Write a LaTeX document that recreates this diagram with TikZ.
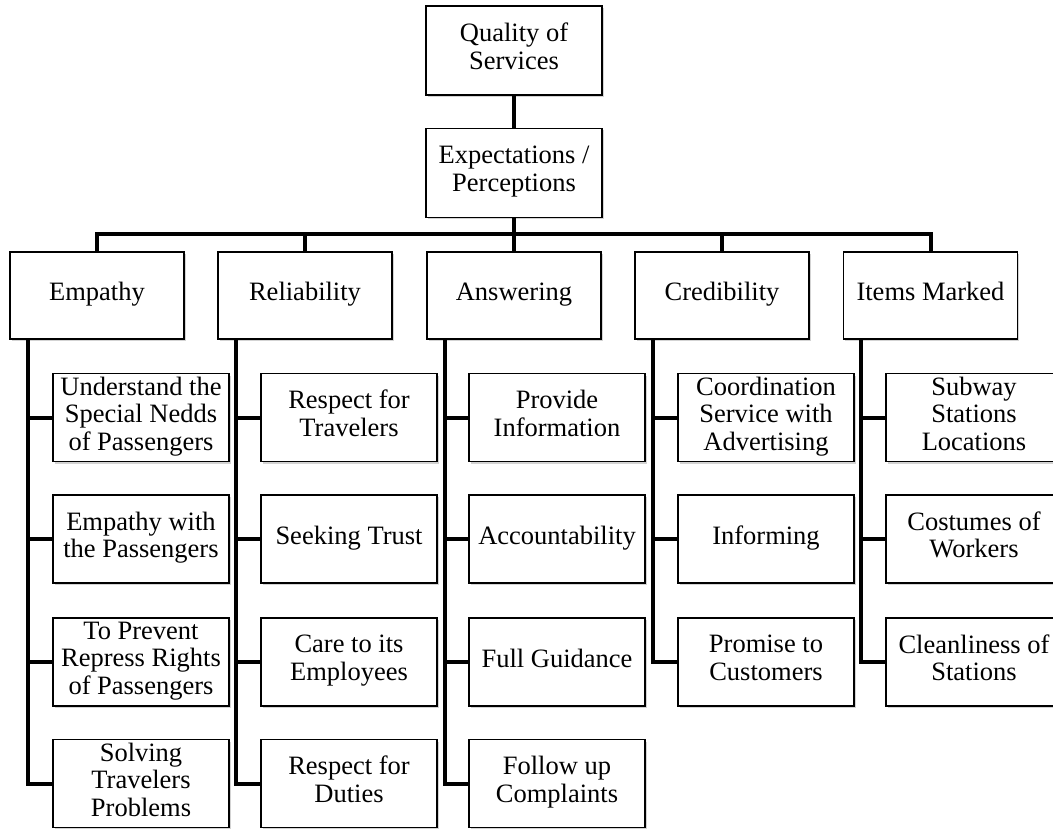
\documentclass[tikz,border=0pt]{standalone}
\usepackage{fontspec}
\setmainfont{Liberation Serif}
\usetikzlibrary{shadows}
\begin{document}
\begin{tikzpicture}[x=1pt,y=-1pt,
  box/.style={draw=black, line width=1.3pt, fill=white, inner sep=0pt,
    align=center, font=\fontsize{26.5}{27.5}\selectfont,
    execute at begin node=\strut, execute at end node=\strut,
    drop shadow={shadow xshift=1.5pt, shadow yshift=-2pt, opacity=0.35, fill=gray}},
  topbox/.style={box, minimum width=176pt, minimum height=89pt},
  catbox/.style={box, minimum width=174pt, minimum height=87pt},
  leaf/.style={box, minimum width=176pt, minimum height=88pt},
  conn/.style={line width=4pt, line join=miter}]
\useasboundingbox (0,0) rectangle (1053,829);
% top
\node[topbox] (qos) at (514,50.5) {Quality of\\Services};
\node[topbox] (exp) at (514,173) {Expectations /\\Perceptions};
% categories
\node[catbox] (emp) at (97,295.5) {Empathy};
\node[catbox] (rel) at (305,295.5) {Reliability};
\node[catbox] (ans) at (514,295.5) {Answering};
\node[catbox] (cre) at (722,295.5) {Credibility};
\node[catbox] (itm) at (930.5,295.5) {Items Marked};
% leaves
\node[leaf] (e1) at (141,417.5) {Understand the\\Special Nedds\\of Passengers};
\node[leaf] (e2) at (141,539) {Empathy with\\the Passengers};
\node[leaf] (e3) at (141,662) {To Prevent\\Repress Rights\\of Passengers};
\node[leaf] (e4) at (141,783.5) {Solving\\Travelers\\Problems};
\node[leaf] (r1) at (349,417.5) {Respect for\\Travelers};
\node[leaf] (r2) at (349,539) {Seeking Trust};
\node[leaf] (r3) at (349,662) {Care to its\\Employees};
\node[leaf] (r4) at (349,783.5) {Respect for\\Duties};
\node[leaf] (a1) at (557,417.5) {Provide\\Information};
\node[leaf] (a2) at (557,539) {Accountability};
\node[leaf] (a3) at (557,662) {Full Guidance};
\node[leaf] (a4) at (557,783.5) {Follow up\\Complaints};
\node[leaf] (c1) at (766,417.5) {Coordination\\Service with\\Advertising};
\node[leaf] (c2) at (766,539) {Informing};
\node[leaf] (c3) at (766,662) {Promise to\\Customers};
\node[leaf] (i1) at (974,417.5) {Subway\\Stations\\Locations};
\node[leaf] (i2) at (974,539) {Costumes of\\Workers};
\node[leaf] (i3) at (974,662) {Cleanliness of\\Stations};
% connectors
\draw[conn] (qos) -- (exp);
\coordinate (bus) at ([yshift=17.5pt]emp.north);
\draw[conn] (emp.north) -- (bus) -| (itm.north);
\foreach \n in {rel,ans,cre} \draw[conn] (\n.north) -- (\n.north |- bus);
\draw[conn] (exp.south) -- (exp.south |- bus);
\foreach \c/\last/\others in {emp/e4/{e1,e2,e3}, rel/r4/{r1,r2,r3}, ans/a4/{a1,a2,a3}, cre/c3/{c1,c2}, itm/i3/{i1,i2}} {
  \coordinate (sp) at ([xshift=18.5pt]\c.south west);
  \draw[conn] (sp) |- (\last.west);
  \foreach \k in \others \draw[conn] (\k.west) -- (\k.west -| sp);
}
\end{tikzpicture}
\end{document}
